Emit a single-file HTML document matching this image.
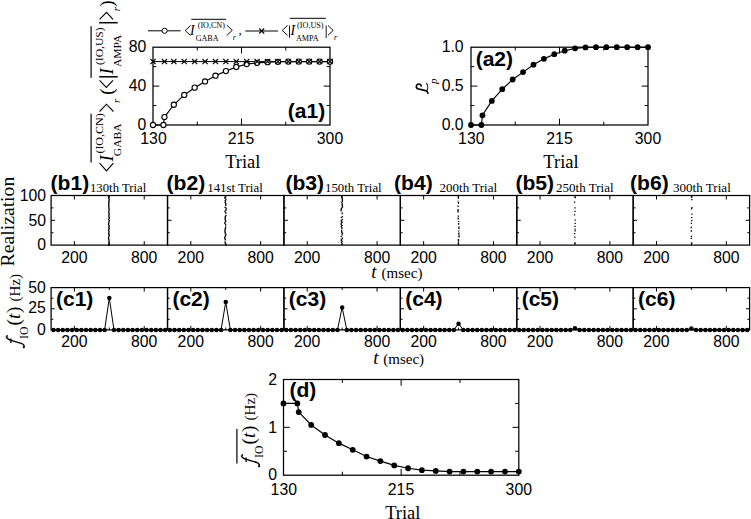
<!DOCTYPE html><html><head><meta charset="utf-8"><style>html,body{margin:0;padding:0;background:#fff;}svg{display:block;}</style></head><body>
<svg width="751" height="519" viewBox="0 0 751 519">
<rect width="751" height="519" fill="#fff"/>
<g stroke="#000" fill="#000">
<polyline points="153,125 163.41,125 164.45,117.03 173.82,104.77 184.24,94.95 194.65,87.66 205.06,81.43 215.47,75.69 225.88,71.12 236.29,66.94 246.71,64.12 257.12,62.86 267.53,62.18 277.94,61.79 288.35,61.59 298.76,61.59 309.18,61.59 319.59,61.59 330,61.59" fill="none" stroke-width="1.15"/>
<line x1="153" y1="61.59" x2="330" y2="61.59" stroke-width="1"/>
<rect x="153" y="47.2" width="177" height="77.8" fill="none" stroke-width="1.25"/>
<line x1="241.5" y1="125" x2="241.5" y2="118.7" stroke-width="1"/>
<line x1="241.5" y1="47.2" x2="241.5" y2="53.5" stroke-width="1"/>
<line x1="197.25" y1="125" x2="197.25" y2="121.7" stroke-width="1"/>
<line x1="197.25" y1="47.2" x2="197.25" y2="50.5" stroke-width="1"/>
<line x1="285.75" y1="125" x2="285.75" y2="121.7" stroke-width="1"/>
<line x1="285.75" y1="47.2" x2="285.75" y2="50.5" stroke-width="1"/>
<line x1="153" y1="86.1" x2="159.3" y2="86.1" stroke-width="1"/>
<line x1="330" y1="86.1" x2="323.7" y2="86.1" stroke-width="1"/>
<line x1="153" y1="105.55" x2="156.3" y2="105.55" stroke-width="1"/>
<line x1="330" y1="105.55" x2="326.7" y2="105.55" stroke-width="1"/>
<line x1="153" y1="66.65" x2="156.3" y2="66.65" stroke-width="1"/>
<line x1="330" y1="66.65" x2="326.7" y2="66.65" stroke-width="1"/>
<circle cx="153" cy="125" r="2.6" fill="#fff" stroke-width="1.1"/>
<circle cx="163.41" cy="125" r="2.6" fill="#fff" stroke-width="1.1"/>
<circle cx="164.45" cy="117.03" r="2.6" fill="#fff" stroke-width="1.1"/>
<circle cx="173.82" cy="104.77" r="2.6" fill="#fff" stroke-width="1.1"/>
<circle cx="184.24" cy="94.95" r="2.6" fill="#fff" stroke-width="1.1"/>
<circle cx="194.65" cy="87.66" r="2.6" fill="#fff" stroke-width="1.1"/>
<circle cx="205.06" cy="81.43" r="2.6" fill="#fff" stroke-width="1.1"/>
<circle cx="215.47" cy="75.69" r="2.6" fill="#fff" stroke-width="1.1"/>
<circle cx="225.88" cy="71.12" r="2.6" fill="#fff" stroke-width="1.1"/>
<circle cx="236.29" cy="66.94" r="2.6" fill="#fff" stroke-width="1.1"/>
<circle cx="246.71" cy="64.12" r="2.6" fill="#fff" stroke-width="1.1"/>
<circle cx="257.12" cy="62.86" r="2.6" fill="#fff" stroke-width="1.1"/>
<circle cx="267.53" cy="62.18" r="2.6" fill="#fff" stroke-width="1.1"/>
<circle cx="277.94" cy="61.79" r="2.6" fill="#fff" stroke-width="1.1"/>
<circle cx="288.35" cy="61.59" r="2.6" fill="#fff" stroke-width="1.1"/>
<circle cx="298.76" cy="61.59" r="2.6" fill="#fff" stroke-width="1.1"/>
<circle cx="309.18" cy="61.59" r="2.6" fill="#fff" stroke-width="1.1"/>
<circle cx="319.59" cy="61.59" r="2.6" fill="#fff" stroke-width="1.1"/>
<circle cx="330" cy="61.59" r="2.6" fill="#fff" stroke-width="1.1"/>
<path d="M150.4 58.99L155.6 64.19M150.4 64.19L155.6 58.99" stroke-width="1.1" fill="none"/>
<path d="M161.85 58.99L167.05 64.19M161.85 64.19L167.05 58.99" stroke-width="1.1" fill="none"/>
<path d="M171.22 58.99L176.42 64.19M171.22 64.19L176.42 58.99" stroke-width="1.1" fill="none"/>
<path d="M181.64 58.99L186.84 64.19M181.64 64.19L186.84 58.99" stroke-width="1.1" fill="none"/>
<path d="M192.05 58.99L197.25 64.19M192.05 64.19L197.25 58.99" stroke-width="1.1" fill="none"/>
<path d="M202.46 58.99L207.66 64.19M202.46 64.19L207.66 58.99" stroke-width="1.1" fill="none"/>
<path d="M212.87 58.99L218.07 64.19M212.87 64.19L218.07 58.99" stroke-width="1.1" fill="none"/>
<path d="M223.28 58.99L228.48 64.19M223.28 64.19L228.48 58.99" stroke-width="1.1" fill="none"/>
<path d="M233.69 58.99L238.89 64.19M233.69 64.19L238.89 58.99" stroke-width="1.1" fill="none"/>
<path d="M244.11 58.99L249.31 64.19M244.11 64.19L249.31 58.99" stroke-width="1.1" fill="none"/>
<path d="M254.52 58.99L259.72 64.19M254.52 64.19L259.72 58.99" stroke-width="1.1" fill="none"/>
<path d="M264.93 58.99L270.13 64.19M264.93 64.19L270.13 58.99" stroke-width="1.1" fill="none"/>
<path d="M275.34 58.99L280.54 64.19M275.34 64.19L280.54 58.99" stroke-width="1.1" fill="none"/>
<path d="M285.75 58.99L290.95 64.19M285.75 64.19L290.95 58.99" stroke-width="1.1" fill="none"/>
<path d="M296.16 58.99L301.36 64.19M296.16 64.19L301.36 58.99" stroke-width="1.1" fill="none"/>
<path d="M306.58 58.99L311.78 64.19M306.58 64.19L311.78 58.99" stroke-width="1.1" fill="none"/>
<path d="M316.99 58.99L322.19 64.19M316.99 64.19L322.19 58.99" stroke-width="1.1" fill="none"/>
<path d="M327.4 58.99L332.6 64.19M327.4 64.19L332.6 58.99" stroke-width="1.1" fill="none"/>
<polyline points="471,125 481.41,125 482.45,115.28 491.82,100.88 502.24,89.21 512.65,79.49 523.06,72.1 533.47,64.7 543.88,58.87 554.29,54.2 564.71,50.7 575.12,48.37 585.53,47.43 595.94,47.2 606.35,47.2 616.76,47.2 627.18,47.2 637.59,47.2 648,47.2" fill="none" stroke-width="1.15"/>
<rect x="471" y="47.2" width="177" height="77.8" fill="none" stroke-width="1.25"/>
<line x1="559.5" y1="125" x2="559.5" y2="118.7" stroke-width="1"/>
<line x1="559.5" y1="47.2" x2="559.5" y2="53.5" stroke-width="1"/>
<line x1="515.25" y1="125" x2="515.25" y2="121.7" stroke-width="1"/>
<line x1="515.25" y1="47.2" x2="515.25" y2="50.5" stroke-width="1"/>
<line x1="603.75" y1="125" x2="603.75" y2="121.7" stroke-width="1"/>
<line x1="603.75" y1="47.2" x2="603.75" y2="50.5" stroke-width="1"/>
<line x1="471" y1="86.1" x2="477.3" y2="86.1" stroke-width="1"/>
<line x1="648" y1="86.1" x2="641.7" y2="86.1" stroke-width="1"/>
<line x1="471" y1="105.55" x2="474.3" y2="105.55" stroke-width="1"/>
<line x1="648" y1="105.55" x2="644.7" y2="105.55" stroke-width="1"/>
<line x1="471" y1="66.65" x2="474.3" y2="66.65" stroke-width="1"/>
<line x1="648" y1="66.65" x2="644.7" y2="66.65" stroke-width="1"/>
<circle cx="471" cy="125" r="2.9" stroke="none"/>
<circle cx="481.41" cy="125" r="2.9" stroke="none"/>
<circle cx="482.45" cy="115.28" r="2.9" stroke="none"/>
<circle cx="491.82" cy="100.88" r="2.9" stroke="none"/>
<circle cx="502.24" cy="89.21" r="2.9" stroke="none"/>
<circle cx="512.65" cy="79.49" r="2.9" stroke="none"/>
<circle cx="523.06" cy="72.1" r="2.9" stroke="none"/>
<circle cx="533.47" cy="64.7" r="2.9" stroke="none"/>
<circle cx="543.88" cy="58.87" r="2.9" stroke="none"/>
<circle cx="554.29" cy="54.2" r="2.9" stroke="none"/>
<circle cx="564.71" cy="50.7" r="2.9" stroke="none"/>
<circle cx="575.12" cy="48.37" r="2.9" stroke="none"/>
<circle cx="585.53" cy="47.43" r="2.9" stroke="none"/>
<circle cx="595.94" cy="47.2" r="2.9" stroke="none"/>
<circle cx="606.35" cy="47.2" r="2.9" stroke="none"/>
<circle cx="616.76" cy="47.2" r="2.9" stroke="none"/>
<circle cx="627.18" cy="47.2" r="2.9" stroke="none"/>
<circle cx="637.59" cy="47.2" r="2.9" stroke="none"/>
<circle cx="648" cy="47.2" r="2.9" stroke="none"/>
<polyline points="283.5,403.43 297.34,403.43 298.73,412.04 311.18,424.96 325.02,435.01 338.86,443.14 352.71,449.84 366.55,456.54 380.39,461.08 394.23,465.39 408.07,468.26 421.91,470.18 435.75,470.89 449.59,471.61 463.44,471.61 477.28,471.61 491.12,471.61 504.96,471.61 518.8,471.61" fill="none" stroke-width="1.15"/>
<rect x="283.5" y="379.5" width="235.3" height="95.7" fill="none" stroke-width="1.25"/>
<line x1="401.15" y1="475.2" x2="401.15" y2="468.9" stroke-width="1"/>
<line x1="401.15" y1="379.5" x2="401.15" y2="385.8" stroke-width="1"/>
<line x1="342.32" y1="475.2" x2="342.32" y2="471.7" stroke-width="1"/>
<line x1="342.32" y1="379.5" x2="342.32" y2="383" stroke-width="1"/>
<line x1="459.97" y1="475.2" x2="459.97" y2="471.7" stroke-width="1"/>
<line x1="459.97" y1="379.5" x2="459.97" y2="383" stroke-width="1"/>
<line x1="283.5" y1="427.35" x2="289.8" y2="427.35" stroke-width="1"/>
<line x1="518.8" y1="427.35" x2="512.5" y2="427.35" stroke-width="1"/>
<line x1="283.5" y1="451.27" x2="287" y2="451.27" stroke-width="1"/>
<line x1="518.8" y1="451.27" x2="515.3" y2="451.27" stroke-width="1"/>
<line x1="283.5" y1="403.43" x2="287" y2="403.43" stroke-width="1"/>
<line x1="518.8" y1="403.43" x2="515.3" y2="403.43" stroke-width="1"/>
<circle cx="283.5" cy="403.43" r="2.9" stroke="none"/>
<circle cx="297.34" cy="403.43" r="2.9" stroke="none"/>
<circle cx="298.73" cy="412.04" r="2.9" stroke="none"/>
<circle cx="311.18" cy="424.96" r="2.9" stroke="none"/>
<circle cx="325.02" cy="435.01" r="2.9" stroke="none"/>
<circle cx="338.86" cy="443.14" r="2.9" stroke="none"/>
<circle cx="352.71" cy="449.84" r="2.9" stroke="none"/>
<circle cx="366.55" cy="456.54" r="2.9" stroke="none"/>
<circle cx="380.39" cy="461.08" r="2.9" stroke="none"/>
<circle cx="394.23" cy="465.39" r="2.9" stroke="none"/>
<circle cx="408.07" cy="468.26" r="2.9" stroke="none"/>
<circle cx="421.91" cy="470.18" r="2.9" stroke="none"/>
<circle cx="435.75" cy="470.89" r="2.9" stroke="none"/>
<circle cx="449.59" cy="471.61" r="2.9" stroke="none"/>
<circle cx="463.44" cy="471.61" r="2.9" stroke="none"/>
<circle cx="477.28" cy="471.61" r="2.9" stroke="none"/>
<circle cx="491.12" cy="471.61" r="2.9" stroke="none"/>
<circle cx="504.96" cy="471.61" r="2.9" stroke="none"/>
<circle cx="518.8" cy="471.61" r="2.9" stroke="none"/>
<rect x="51.1" y="195.5" width="116.42" height="49.6" fill="none" stroke-width="1.25"/>
<line x1="74.38" y1="245.1" x2="74.38" y2="241.1" stroke-width="1"/>
<line x1="74.38" y1="195.5" x2="74.38" y2="199.5" stroke-width="1"/>
<line x1="144.23" y1="245.1" x2="144.23" y2="241.1" stroke-width="1"/>
<line x1="144.23" y1="195.5" x2="144.23" y2="199.5" stroke-width="1"/>
<line x1="109.31" y1="245.1" x2="109.31" y2="242.8" stroke-width="1"/>
<line x1="109.31" y1="195.5" x2="109.31" y2="197.8" stroke-width="1"/>
<line x1="51.1" y1="220.3" x2="55.1" y2="220.3" stroke-width="1"/>
<line x1="51.1" y1="232.7" x2="53.4" y2="232.7" stroke-width="1"/>
<line x1="51.1" y1="207.9" x2="53.4" y2="207.9" stroke-width="1"/>
<path d="M108.68 195.8v1.16M108.99 196.66v0.88M108.97 197.24v0.86M108.61 197.8v1.28M109.22 198.78v1.27M109.06 199.74v1.05M108.88 200.49v1.43M109.25 201.62v0.85M108.65 202.18v0.96M108.7 202.83v1.7M108.86 204.23v1.5M108.61 205.43v0.87M108.9 206v1.55M108.92 207.25v1.44M109.12 208.4v1.67M108.98 209.77v1.43M108.79 210.9v1.6M108.89 212.2v0.93M108.95 212.83v0.97M109.17 213.5v1.54M108.81 214.74v1.76M109.02 216.2v1.45M109.31 217.35v1.72M108.61 218.78v1.53M109.35 220.01v1.51M108.87 221.22v1.11M108.93 222.03v0.82M108.61 222.56v0.93M108.76 223.19v0.94M108.62 223.83v1.76M109.27 225.29v1.4M108.78 226.39v1.75M109.27 227.84v1.19M108.7 228.74v0.97M108.95 229.4v1.06M108.56 230.16v1.09M109.01 230.95v1.21M108.97 231.85v1.56M108.6 233.11v1.54M109.26 234.36v1.66M108.88 235.72v1.23M108.61 236.65v1.5M108.69 237.84v1.03M108.56 238.57v0.86M108.85 239.13v0.91M109.05 239.74v1.76M108.84 241.21v1.08M109.24 241.98v0.94M108.95 242.62v1.31M108.83 243.63v0.91M108.69 244.24v1.71" stroke-width="1.3" fill="none"/>
<rect x="167.52" y="195.5" width="116.42" height="49.6" fill="none" stroke-width="1.25"/>
<line x1="190.8" y1="245.1" x2="190.8" y2="241.1" stroke-width="1"/>
<line x1="190.8" y1="195.5" x2="190.8" y2="199.5" stroke-width="1"/>
<line x1="260.65" y1="245.1" x2="260.65" y2="241.1" stroke-width="1"/>
<line x1="260.65" y1="195.5" x2="260.65" y2="199.5" stroke-width="1"/>
<line x1="225.73" y1="245.1" x2="225.73" y2="242.8" stroke-width="1"/>
<line x1="225.73" y1="195.5" x2="225.73" y2="197.8" stroke-width="1"/>
<line x1="167.52" y1="220.3" x2="171.52" y2="220.3" stroke-width="1"/>
<line x1="167.52" y1="232.7" x2="169.82" y2="232.7" stroke-width="1"/>
<line x1="167.52" y1="207.9" x2="169.82" y2="207.9" stroke-width="1"/>
<path d="M225.42 195.8v1.85M224.71 197.35v1.4M225.88 198.44v1.88M225.19 200.02v1.09M225.42 200.81v1.65M224.99 202.16v1.16M225.87 203.02v1.88M225.71 204.6v1.7M225.07 207.07v0.83M226.01 207.6v1.56M226.06 208.86v1.83M224.98 210.4v1.2M224.96 211.3v1.02M225.85 212.01v1.79M225.95 214.72v1.53M225.34 215.95v1.63M225.14 217.27v1.67M225.23 218.64v1.87M225.69 220.21v1.84M224.89 221.75v0.94M224.88 222.39v1.69M225.6 223.78v1.88M225.59 226.46v1.87M225.28 228.03v1.83M224.97 229.56v1.71M225.01 230.96v1.12M225.26 231.79v1.09M225.17 232.57v1.8M225.94 234.07v1.44M225.38 235.21v1.81M224.7 236.72v1.38M224.68 237.8v1M225.34 238.5v0.99M225.13 239.19v1.41M225.02 241.41v1.42M225.39 242.53v1.65M225.95 243.88v1.64" stroke-width="1.3" fill="none"/>
<rect x="283.93" y="195.5" width="116.42" height="49.6" fill="none" stroke-width="1.25"/>
<line x1="307.22" y1="245.1" x2="307.22" y2="241.1" stroke-width="1"/>
<line x1="307.22" y1="195.5" x2="307.22" y2="199.5" stroke-width="1"/>
<line x1="377.07" y1="245.1" x2="377.07" y2="241.1" stroke-width="1"/>
<line x1="377.07" y1="195.5" x2="377.07" y2="199.5" stroke-width="1"/>
<line x1="342.14" y1="245.1" x2="342.14" y2="242.8" stroke-width="1"/>
<line x1="342.14" y1="195.5" x2="342.14" y2="197.8" stroke-width="1"/>
<line x1="283.93" y1="220.3" x2="287.93" y2="220.3" stroke-width="1"/>
<line x1="283.93" y1="232.7" x2="286.23" y2="232.7" stroke-width="1"/>
<line x1="283.93" y1="207.9" x2="286.23" y2="207.9" stroke-width="1"/>
<path d="M341.8 195.8v1.47M341.73 196.97v1.56M342.41 198.24v1.33M342.41 199.26v1.76M342.41 200.73v1.42M341.26 201.84v0.95M342.19 203.07v1.54M342.09 204.31v0.97M342.33 204.98v0.96M342.43 205.64v1.04M342.48 206.38v1.34M341.7 207.41v0.98M341.37 208.09v1.17M341.12 208.96v1.59M341.12 210.26v1.28M342.2 212.43v1.88M342.37 215.98v1.26M341.3 216.95v1.08M342.06 218.86v0.86M342.41 219.42v0.88M341.21 220v1.68M342.3 221.39v0.87M341.87 221.96v1.17M341.27 222.83v1.09M341.25 223.63v1.06M341.37 224.39v0.86M342.16 224.94v1.14M341.34 225.78v1.35M341.86 227.35v1.61M341.7 229.68v1.7M341.64 231.08v1.72M342.47 232.5v1.56M342.08 233.75v1.72M341.19 236.11v0.94M342.31 237.54v1.73M341.43 238.96v1.11M341.31 239.77v1.31M342.44 240.78v1.09M341.43 241.57v1.4M341.76 243.51v1.22" stroke-width="1.3" fill="none"/>
<rect x="400.35" y="195.5" width="116.42" height="49.6" fill="none" stroke-width="1.25"/>
<line x1="423.63" y1="245.1" x2="423.63" y2="241.1" stroke-width="1"/>
<line x1="423.63" y1="195.5" x2="423.63" y2="199.5" stroke-width="1"/>
<line x1="493.48" y1="245.1" x2="493.48" y2="241.1" stroke-width="1"/>
<line x1="493.48" y1="195.5" x2="493.48" y2="199.5" stroke-width="1"/>
<line x1="458.56" y1="245.1" x2="458.56" y2="242.8" stroke-width="1"/>
<line x1="458.56" y1="195.5" x2="458.56" y2="197.8" stroke-width="1"/>
<line x1="400.35" y1="220.3" x2="404.35" y2="220.3" stroke-width="1"/>
<line x1="400.35" y1="232.7" x2="402.65" y2="232.7" stroke-width="1"/>
<line x1="400.35" y1="207.9" x2="402.65" y2="207.9" stroke-width="1"/>
<path d="M458.32 196.2v2.6M458.11 200.8v0.8M458.48 202v1.8M458.05 205.5v1.6M458.03 209v3.4M458.37 215.4v1.3M458.28 217.6v2M458.7 221v0.9M458.64 223.1v1.7M458.9 226.6v2.3M458.79 230.4v1.2M458.86 232.5v2.3M459.05 235.2v2.3M458.47 239v2.8M458.39 242.2v2.3" stroke-width="1.3" fill="none"/>
<rect x="516.77" y="195.5" width="116.42" height="49.6" fill="none" stroke-width="1.25"/>
<line x1="540.05" y1="245.1" x2="540.05" y2="241.1" stroke-width="1"/>
<line x1="540.05" y1="195.5" x2="540.05" y2="199.5" stroke-width="1"/>
<line x1="609.9" y1="245.1" x2="609.9" y2="241.1" stroke-width="1"/>
<line x1="609.9" y1="195.5" x2="609.9" y2="199.5" stroke-width="1"/>
<line x1="574.98" y1="245.1" x2="574.98" y2="242.8" stroke-width="1"/>
<line x1="574.98" y1="195.5" x2="574.98" y2="197.8" stroke-width="1"/>
<line x1="516.77" y1="220.3" x2="520.77" y2="220.3" stroke-width="1"/>
<line x1="516.77" y1="232.7" x2="519.07" y2="232.7" stroke-width="1"/>
<line x1="516.77" y1="207.9" x2="519.07" y2="207.9" stroke-width="1"/>
<path d="M575.29 196.85v1.3M574.62 201.45v1.3M575.08 207.25v1.3M575.01 210.65v1.3M574.54 214.15v1.3M575.17 219.55v1.3M575.21 222.75v1.3M575 225.65v1.3M575.09 228.55v1.3M575.15 230.25v1.3M574.61 232.95v1.3M574.92 236.45v1.3M574.9 242.35v1.3" stroke-width="1.3" fill="none"/>
<rect x="633.18" y="195.5" width="116.42" height="49.6" fill="none" stroke-width="1.25"/>
<line x1="656.47" y1="245.1" x2="656.47" y2="241.1" stroke-width="1"/>
<line x1="656.47" y1="195.5" x2="656.47" y2="199.5" stroke-width="1"/>
<line x1="726.32" y1="245.1" x2="726.32" y2="241.1" stroke-width="1"/>
<line x1="726.32" y1="195.5" x2="726.32" y2="199.5" stroke-width="1"/>
<line x1="691.39" y1="245.1" x2="691.39" y2="242.8" stroke-width="1"/>
<line x1="691.39" y1="195.5" x2="691.39" y2="197.8" stroke-width="1"/>
<line x1="633.18" y1="220.3" x2="637.18" y2="220.3" stroke-width="1"/>
<line x1="749.6" y1="220.3" x2="745.6" y2="220.3" stroke-width="1"/>
<line x1="633.18" y1="232.7" x2="635.48" y2="232.7" stroke-width="1"/>
<line x1="749.6" y1="232.7" x2="747.3" y2="232.7" stroke-width="1"/>
<line x1="633.18" y1="207.9" x2="635.48" y2="207.9" stroke-width="1"/>
<line x1="749.6" y1="207.9" x2="747.3" y2="207.9" stroke-width="1"/>
<path d="M691.87 196.55v1.3M691.84 198.95v1.3M691.86 206.95v1.3M691.67 208.15v1.3M691.91 213.55v1.3M691.75 217.05v1.3M691.75 219.95v1.3M691.38 222.75v1.3M691.22 226.85v1.3M691.31 230.35v1.3M691.49 235.75v1.3M691.28 237.75v1.3M691.87 242.35v1.3" stroke-width="1.3" fill="none"/>
<rect x="51.1" y="287.6" width="116.42" height="42.3" fill="none" stroke-width="1.25"/>
<line x1="74.38" y1="329.9" x2="74.38" y2="325.9" stroke-width="1"/>
<line x1="74.38" y1="287.6" x2="74.38" y2="291.6" stroke-width="1"/>
<line x1="144.23" y1="329.9" x2="144.23" y2="325.9" stroke-width="1"/>
<line x1="144.23" y1="287.6" x2="144.23" y2="291.6" stroke-width="1"/>
<line x1="109.31" y1="329.9" x2="109.31" y2="327.6" stroke-width="1"/>
<line x1="109.31" y1="287.6" x2="109.31" y2="289.9" stroke-width="1"/>
<line x1="51.1" y1="308.75" x2="54.7" y2="308.75" stroke-width="1"/>
<line x1="51.1" y1="319.32" x2="53.3" y2="319.32" stroke-width="1"/>
<line x1="51.1" y1="298.18" x2="53.3" y2="298.18" stroke-width="1"/>
<polyline points="53.43,329.9 58.09,329.9 62.74,329.9 67.4,329.9 72.06,329.9 76.71,329.9 81.37,329.9 86.03,329.9 90.68,329.9 95.34,329.9 100,329.9 104.65,329.9 109.31,297.92 113.97,329.9 118.62,329.9 123.28,329.9 127.94,329.9 132.59,329.9 137.25,329.9 141.91,329.9 146.56,329.9 151.22,329.9 155.88,329.9 160.53,329.9 165.19,329.9" fill="none" stroke-width="1"/>
<circle cx="53.43" cy="329.9" r="2.25" stroke="none"/>
<circle cx="58.09" cy="329.9" r="2.25" stroke="none"/>
<circle cx="62.74" cy="329.9" r="2.25" stroke="none"/>
<circle cx="67.4" cy="329.9" r="2.25" stroke="none"/>
<circle cx="72.06" cy="329.9" r="2.25" stroke="none"/>
<circle cx="76.71" cy="329.9" r="2.25" stroke="none"/>
<circle cx="81.37" cy="329.9" r="2.25" stroke="none"/>
<circle cx="86.03" cy="329.9" r="2.25" stroke="none"/>
<circle cx="90.68" cy="329.9" r="2.25" stroke="none"/>
<circle cx="95.34" cy="329.9" r="2.25" stroke="none"/>
<circle cx="100" cy="329.9" r="2.25" stroke="none"/>
<circle cx="104.65" cy="329.9" r="2.25" stroke="none"/>
<circle cx="109.31" cy="297.92" r="2.25" stroke="none"/>
<circle cx="113.97" cy="329.9" r="2.25" stroke="none"/>
<circle cx="118.62" cy="329.9" r="2.25" stroke="none"/>
<circle cx="123.28" cy="329.9" r="2.25" stroke="none"/>
<circle cx="127.94" cy="329.9" r="2.25" stroke="none"/>
<circle cx="132.59" cy="329.9" r="2.25" stroke="none"/>
<circle cx="137.25" cy="329.9" r="2.25" stroke="none"/>
<circle cx="141.91" cy="329.9" r="2.25" stroke="none"/>
<circle cx="146.56" cy="329.9" r="2.25" stroke="none"/>
<circle cx="151.22" cy="329.9" r="2.25" stroke="none"/>
<circle cx="155.88" cy="329.9" r="2.25" stroke="none"/>
<circle cx="160.53" cy="329.9" r="2.25" stroke="none"/>
<circle cx="165.19" cy="329.9" r="2.25" stroke="none"/>
<rect x="167.52" y="287.6" width="116.42" height="42.3" fill="none" stroke-width="1.25"/>
<line x1="190.8" y1="329.9" x2="190.8" y2="325.9" stroke-width="1"/>
<line x1="190.8" y1="287.6" x2="190.8" y2="291.6" stroke-width="1"/>
<line x1="260.65" y1="329.9" x2="260.65" y2="325.9" stroke-width="1"/>
<line x1="260.65" y1="287.6" x2="260.65" y2="291.6" stroke-width="1"/>
<line x1="225.73" y1="329.9" x2="225.73" y2="327.6" stroke-width="1"/>
<line x1="225.73" y1="287.6" x2="225.73" y2="289.9" stroke-width="1"/>
<line x1="167.52" y1="308.75" x2="171.12" y2="308.75" stroke-width="1"/>
<line x1="167.52" y1="319.32" x2="169.72" y2="319.32" stroke-width="1"/>
<line x1="167.52" y1="298.18" x2="169.72" y2="298.18" stroke-width="1"/>
<polyline points="169.85,329.9 174.5,329.9 179.16,329.9 183.82,329.9 188.47,329.9 193.13,329.9 197.79,329.9 202.44,329.9 207.1,329.9 211.76,329.9 216.41,329.9 221.07,329.9 225.73,302.07 230.38,329.9 235.04,329.9 239.7,329.9 244.35,329.9 249.01,329.9 253.67,329.9 258.32,329.9 262.98,329.9 267.63,329.9 272.29,329.9 276.95,329.9 281.61,329.9" fill="none" stroke-width="1"/>
<circle cx="169.85" cy="329.9" r="2.25" stroke="none"/>
<circle cx="174.5" cy="329.9" r="2.25" stroke="none"/>
<circle cx="179.16" cy="329.9" r="2.25" stroke="none"/>
<circle cx="183.82" cy="329.9" r="2.25" stroke="none"/>
<circle cx="188.47" cy="329.9" r="2.25" stroke="none"/>
<circle cx="193.13" cy="329.9" r="2.25" stroke="none"/>
<circle cx="197.79" cy="329.9" r="2.25" stroke="none"/>
<circle cx="202.44" cy="329.9" r="2.25" stroke="none"/>
<circle cx="207.1" cy="329.9" r="2.25" stroke="none"/>
<circle cx="211.76" cy="329.9" r="2.25" stroke="none"/>
<circle cx="216.41" cy="329.9" r="2.25" stroke="none"/>
<circle cx="221.07" cy="329.9" r="2.25" stroke="none"/>
<circle cx="225.73" cy="302.07" r="2.25" stroke="none"/>
<circle cx="230.38" cy="329.9" r="2.25" stroke="none"/>
<circle cx="235.04" cy="329.9" r="2.25" stroke="none"/>
<circle cx="239.7" cy="329.9" r="2.25" stroke="none"/>
<circle cx="244.35" cy="329.9" r="2.25" stroke="none"/>
<circle cx="249.01" cy="329.9" r="2.25" stroke="none"/>
<circle cx="253.67" cy="329.9" r="2.25" stroke="none"/>
<circle cx="258.32" cy="329.9" r="2.25" stroke="none"/>
<circle cx="262.98" cy="329.9" r="2.25" stroke="none"/>
<circle cx="267.63" cy="329.9" r="2.25" stroke="none"/>
<circle cx="272.29" cy="329.9" r="2.25" stroke="none"/>
<circle cx="276.95" cy="329.9" r="2.25" stroke="none"/>
<circle cx="281.61" cy="329.9" r="2.25" stroke="none"/>
<rect x="283.93" y="287.6" width="116.42" height="42.3" fill="none" stroke-width="1.25"/>
<line x1="307.22" y1="329.9" x2="307.22" y2="325.9" stroke-width="1"/>
<line x1="307.22" y1="287.6" x2="307.22" y2="291.6" stroke-width="1"/>
<line x1="377.07" y1="329.9" x2="377.07" y2="325.9" stroke-width="1"/>
<line x1="377.07" y1="287.6" x2="377.07" y2="291.6" stroke-width="1"/>
<line x1="342.14" y1="329.9" x2="342.14" y2="327.6" stroke-width="1"/>
<line x1="342.14" y1="287.6" x2="342.14" y2="289.9" stroke-width="1"/>
<line x1="283.93" y1="308.75" x2="287.53" y2="308.75" stroke-width="1"/>
<line x1="283.93" y1="319.32" x2="286.13" y2="319.32" stroke-width="1"/>
<line x1="283.93" y1="298.18" x2="286.13" y2="298.18" stroke-width="1"/>
<polyline points="286.26,329.9 290.92,329.9 295.57,329.9 300.23,329.9 304.89,329.9 309.55,329.9 314.2,329.9 318.86,329.9 323.51,329.9 328.17,329.9 332.83,329.9 337.49,329.9 342.14,307.4 346.8,329.9 351.45,329.9 356.11,329.9 360.77,329.9 365.43,329.9 370.08,329.9 374.74,329.9 379.39,329.9 384.05,329.9 388.71,329.9 393.37,329.9 398.02,329.9" fill="none" stroke-width="1"/>
<circle cx="286.26" cy="329.9" r="2.25" stroke="none"/>
<circle cx="290.92" cy="329.9" r="2.25" stroke="none"/>
<circle cx="295.57" cy="329.9" r="2.25" stroke="none"/>
<circle cx="300.23" cy="329.9" r="2.25" stroke="none"/>
<circle cx="304.89" cy="329.9" r="2.25" stroke="none"/>
<circle cx="309.55" cy="329.9" r="2.25" stroke="none"/>
<circle cx="314.2" cy="329.9" r="2.25" stroke="none"/>
<circle cx="318.86" cy="329.9" r="2.25" stroke="none"/>
<circle cx="323.51" cy="329.9" r="2.25" stroke="none"/>
<circle cx="328.17" cy="329.9" r="2.25" stroke="none"/>
<circle cx="332.83" cy="329.9" r="2.25" stroke="none"/>
<circle cx="337.49" cy="329.9" r="2.25" stroke="none"/>
<circle cx="342.14" cy="307.4" r="2.25" stroke="none"/>
<circle cx="346.8" cy="329.9" r="2.25" stroke="none"/>
<circle cx="351.45" cy="329.9" r="2.25" stroke="none"/>
<circle cx="356.11" cy="329.9" r="2.25" stroke="none"/>
<circle cx="360.77" cy="329.9" r="2.25" stroke="none"/>
<circle cx="365.43" cy="329.9" r="2.25" stroke="none"/>
<circle cx="370.08" cy="329.9" r="2.25" stroke="none"/>
<circle cx="374.74" cy="329.9" r="2.25" stroke="none"/>
<circle cx="379.39" cy="329.9" r="2.25" stroke="none"/>
<circle cx="384.05" cy="329.9" r="2.25" stroke="none"/>
<circle cx="388.71" cy="329.9" r="2.25" stroke="none"/>
<circle cx="393.37" cy="329.9" r="2.25" stroke="none"/>
<circle cx="398.02" cy="329.9" r="2.25" stroke="none"/>
<rect x="400.35" y="287.6" width="116.42" height="42.3" fill="none" stroke-width="1.25"/>
<line x1="423.63" y1="329.9" x2="423.63" y2="325.9" stroke-width="1"/>
<line x1="423.63" y1="287.6" x2="423.63" y2="291.6" stroke-width="1"/>
<line x1="493.48" y1="329.9" x2="493.48" y2="325.9" stroke-width="1"/>
<line x1="493.48" y1="287.6" x2="493.48" y2="291.6" stroke-width="1"/>
<line x1="458.56" y1="329.9" x2="458.56" y2="327.6" stroke-width="1"/>
<line x1="458.56" y1="287.6" x2="458.56" y2="289.9" stroke-width="1"/>
<line x1="400.35" y1="308.75" x2="403.95" y2="308.75" stroke-width="1"/>
<line x1="400.35" y1="319.32" x2="402.55" y2="319.32" stroke-width="1"/>
<line x1="400.35" y1="298.18" x2="402.55" y2="298.18" stroke-width="1"/>
<polyline points="402.68,329.9 407.34,329.9 411.99,329.9 416.65,329.9 421.31,329.9 425.96,329.9 430.62,329.9 435.28,329.9 439.93,329.9 444.59,329.9 449.25,329.9 453.9,329.9 458.56,323.64 463.22,329.9 467.87,329.9 472.53,329.9 477.19,329.9 481.84,329.9 486.5,329.9 491.16,329.9 495.81,329.9 500.47,329.9 505.12,329.9 509.78,329.9 514.44,329.9" fill="none" stroke-width="1"/>
<circle cx="402.68" cy="329.9" r="2.25" stroke="none"/>
<circle cx="407.34" cy="329.9" r="2.25" stroke="none"/>
<circle cx="411.99" cy="329.9" r="2.25" stroke="none"/>
<circle cx="416.65" cy="329.9" r="2.25" stroke="none"/>
<circle cx="421.31" cy="329.9" r="2.25" stroke="none"/>
<circle cx="425.96" cy="329.9" r="2.25" stroke="none"/>
<circle cx="430.62" cy="329.9" r="2.25" stroke="none"/>
<circle cx="435.28" cy="329.9" r="2.25" stroke="none"/>
<circle cx="439.93" cy="329.9" r="2.25" stroke="none"/>
<circle cx="444.59" cy="329.9" r="2.25" stroke="none"/>
<circle cx="449.25" cy="329.9" r="2.25" stroke="none"/>
<circle cx="453.9" cy="329.9" r="2.25" stroke="none"/>
<circle cx="458.56" cy="323.64" r="2.25" stroke="none"/>
<circle cx="463.22" cy="329.9" r="2.25" stroke="none"/>
<circle cx="467.87" cy="329.9" r="2.25" stroke="none"/>
<circle cx="472.53" cy="329.9" r="2.25" stroke="none"/>
<circle cx="477.19" cy="329.9" r="2.25" stroke="none"/>
<circle cx="481.84" cy="329.9" r="2.25" stroke="none"/>
<circle cx="486.5" cy="329.9" r="2.25" stroke="none"/>
<circle cx="491.16" cy="329.9" r="2.25" stroke="none"/>
<circle cx="495.81" cy="329.9" r="2.25" stroke="none"/>
<circle cx="500.47" cy="329.9" r="2.25" stroke="none"/>
<circle cx="505.12" cy="329.9" r="2.25" stroke="none"/>
<circle cx="509.78" cy="329.9" r="2.25" stroke="none"/>
<circle cx="514.44" cy="329.9" r="2.25" stroke="none"/>
<rect x="516.77" y="287.6" width="116.42" height="42.3" fill="none" stroke-width="1.25"/>
<line x1="540.05" y1="329.9" x2="540.05" y2="325.9" stroke-width="1"/>
<line x1="540.05" y1="287.6" x2="540.05" y2="291.6" stroke-width="1"/>
<line x1="609.9" y1="329.9" x2="609.9" y2="325.9" stroke-width="1"/>
<line x1="609.9" y1="287.6" x2="609.9" y2="291.6" stroke-width="1"/>
<line x1="574.98" y1="329.9" x2="574.98" y2="327.6" stroke-width="1"/>
<line x1="574.98" y1="287.6" x2="574.98" y2="289.9" stroke-width="1"/>
<line x1="516.77" y1="308.75" x2="520.37" y2="308.75" stroke-width="1"/>
<line x1="516.77" y1="319.32" x2="518.97" y2="319.32" stroke-width="1"/>
<line x1="516.77" y1="298.18" x2="518.97" y2="298.18" stroke-width="1"/>
<polyline points="519.1,329.9 523.75,329.9 528.41,329.9 533.06,329.9 537.72,329.9 542.38,329.9 547.03,329.9 551.69,329.9 556.35,329.9 561,329.9 565.66,329.9 570.32,329.9 574.98,328.21 579.63,329.9 584.29,329.9 588.94,329.9 593.6,329.9 598.26,329.9 602.91,329.9 607.57,329.9 612.23,329.9 616.88,329.9 621.54,329.9 626.2,329.9 630.86,329.9" fill="none" stroke-width="1"/>
<circle cx="519.1" cy="329.9" r="2.25" stroke="none"/>
<circle cx="523.75" cy="329.9" r="2.25" stroke="none"/>
<circle cx="528.41" cy="329.9" r="2.25" stroke="none"/>
<circle cx="533.06" cy="329.9" r="2.25" stroke="none"/>
<circle cx="537.72" cy="329.9" r="2.25" stroke="none"/>
<circle cx="542.38" cy="329.9" r="2.25" stroke="none"/>
<circle cx="547.03" cy="329.9" r="2.25" stroke="none"/>
<circle cx="551.69" cy="329.9" r="2.25" stroke="none"/>
<circle cx="556.35" cy="329.9" r="2.25" stroke="none"/>
<circle cx="561" cy="329.9" r="2.25" stroke="none"/>
<circle cx="565.66" cy="329.9" r="2.25" stroke="none"/>
<circle cx="570.32" cy="329.9" r="2.25" stroke="none"/>
<circle cx="574.98" cy="328.21" r="2.25" stroke="none"/>
<circle cx="579.63" cy="329.9" r="2.25" stroke="none"/>
<circle cx="584.29" cy="329.9" r="2.25" stroke="none"/>
<circle cx="588.94" cy="329.9" r="2.25" stroke="none"/>
<circle cx="593.6" cy="329.9" r="2.25" stroke="none"/>
<circle cx="598.26" cy="329.9" r="2.25" stroke="none"/>
<circle cx="602.91" cy="329.9" r="2.25" stroke="none"/>
<circle cx="607.57" cy="329.9" r="2.25" stroke="none"/>
<circle cx="612.23" cy="329.9" r="2.25" stroke="none"/>
<circle cx="616.88" cy="329.9" r="2.25" stroke="none"/>
<circle cx="621.54" cy="329.9" r="2.25" stroke="none"/>
<circle cx="626.2" cy="329.9" r="2.25" stroke="none"/>
<circle cx="630.86" cy="329.9" r="2.25" stroke="none"/>
<rect x="633.18" y="287.6" width="116.42" height="42.3" fill="none" stroke-width="1.25"/>
<line x1="656.47" y1="329.9" x2="656.47" y2="325.9" stroke-width="1"/>
<line x1="656.47" y1="287.6" x2="656.47" y2="291.6" stroke-width="1"/>
<line x1="726.32" y1="329.9" x2="726.32" y2="325.9" stroke-width="1"/>
<line x1="726.32" y1="287.6" x2="726.32" y2="291.6" stroke-width="1"/>
<line x1="691.39" y1="329.9" x2="691.39" y2="327.6" stroke-width="1"/>
<line x1="691.39" y1="287.6" x2="691.39" y2="289.9" stroke-width="1"/>
<line x1="633.18" y1="308.75" x2="636.78" y2="308.75" stroke-width="1"/>
<line x1="749.6" y1="308.75" x2="746" y2="308.75" stroke-width="1"/>
<line x1="633.18" y1="319.32" x2="635.38" y2="319.32" stroke-width="1"/>
<line x1="749.6" y1="319.32" x2="747.4" y2="319.32" stroke-width="1"/>
<line x1="633.18" y1="298.18" x2="635.38" y2="298.18" stroke-width="1"/>
<line x1="749.6" y1="298.18" x2="747.4" y2="298.18" stroke-width="1"/>
<polyline points="635.51,329.9 640.17,329.9 644.83,329.9 649.48,329.9 654.14,329.9 658.8,329.9 663.45,329.9 668.11,329.9 672.77,329.9 677.42,329.9 682.08,329.9 686.74,329.9 691.39,328.55 696.05,329.9 700.71,329.9 705.36,329.9 710.02,329.9 714.68,329.9 719.33,329.9 723.99,329.9 728.65,329.9 733.3,329.9 737.96,329.9 742.62,329.9 747.27,329.9" fill="none" stroke-width="1"/>
<circle cx="635.51" cy="329.9" r="2.25" stroke="none"/>
<circle cx="640.17" cy="329.9" r="2.25" stroke="none"/>
<circle cx="644.83" cy="329.9" r="2.25" stroke="none"/>
<circle cx="649.48" cy="329.9" r="2.25" stroke="none"/>
<circle cx="654.14" cy="329.9" r="2.25" stroke="none"/>
<circle cx="658.8" cy="329.9" r="2.25" stroke="none"/>
<circle cx="663.45" cy="329.9" r="2.25" stroke="none"/>
<circle cx="668.11" cy="329.9" r="2.25" stroke="none"/>
<circle cx="672.77" cy="329.9" r="2.25" stroke="none"/>
<circle cx="677.42" cy="329.9" r="2.25" stroke="none"/>
<circle cx="682.08" cy="329.9" r="2.25" stroke="none"/>
<circle cx="686.74" cy="329.9" r="2.25" stroke="none"/>
<circle cx="691.39" cy="328.55" r="2.25" stroke="none"/>
<circle cx="696.05" cy="329.9" r="2.25" stroke="none"/>
<circle cx="700.71" cy="329.9" r="2.25" stroke="none"/>
<circle cx="705.36" cy="329.9" r="2.25" stroke="none"/>
<circle cx="710.02" cy="329.9" r="2.25" stroke="none"/>
<circle cx="714.68" cy="329.9" r="2.25" stroke="none"/>
<circle cx="719.33" cy="329.9" r="2.25" stroke="none"/>
<circle cx="723.99" cy="329.9" r="2.25" stroke="none"/>
<circle cx="728.65" cy="329.9" r="2.25" stroke="none"/>
<circle cx="733.3" cy="329.9" r="2.25" stroke="none"/>
<circle cx="737.96" cy="329.9" r="2.25" stroke="none"/>
<circle cx="742.62" cy="329.9" r="2.25" stroke="none"/>
<circle cx="747.27" cy="329.9" r="2.25" stroke="none"/>
</g>
<g fill="#000" stroke="none">
<text x="153.5" y="144.2" font-size="15.8" font-family='"Liberation Sans", sans-serif' text-anchor="middle">130</text>
<text x="241" y="144.2" font-size="15.8" font-family='"Liberation Sans", sans-serif' text-anchor="middle">215</text>
<text x="330" y="144.2" font-size="15.8" font-family='"Liberation Sans", sans-serif' text-anchor="middle">300</text>
<text x="146.4" y="52.1" font-size="15.8" font-family='"Liberation Sans", sans-serif' text-anchor="end">80</text>
<text x="146.4" y="91" font-size="15.8" font-family='"Liberation Sans", sans-serif' text-anchor="end">40</text>
<text x="146.4" y="129.8" font-size="15.8" font-family='"Liberation Sans", sans-serif' text-anchor="end">0</text>
<text x="242.8" y="167.5" font-size="18.5" font-family='"Liberation Serif", serif' text-anchor="middle">Trial</text>
<text x="287.8" y="117.8" font-size="21" font-family='"Liberation Sans", sans-serif' font-weight="bold">(a1)</text>
<text x="471.3" y="144.2" font-size="15.8" font-family='"Liberation Sans", sans-serif' text-anchor="middle">130</text>
<text x="559.5" y="144.2" font-size="15.8" font-family='"Liberation Sans", sans-serif' text-anchor="middle">215</text>
<text x="648" y="144.2" font-size="15.8" font-family='"Liberation Sans", sans-serif' text-anchor="middle">300</text>
<text x="463.6" y="52.1" font-size="15.8" font-family='"Liberation Sans", sans-serif' text-anchor="end">1.0</text>
<text x="463.6" y="91" font-size="15.8" font-family='"Liberation Sans", sans-serif' text-anchor="end">0.5</text>
<text x="463.6" y="129.8" font-size="15.8" font-family='"Liberation Sans", sans-serif' text-anchor="end">0.0</text>
<text x="561" y="167.5" font-size="18.5" font-family='"Liberation Serif", serif' text-anchor="middle">Trial</text>
<text x="475.7" y="65.8" font-size="21" font-family='"Liberation Sans", sans-serif' font-weight="bold">(a2)</text>
<text x="283.8" y="495.4" font-size="15.8" font-family='"Liberation Sans", sans-serif' text-anchor="middle">130</text>
<text x="401" y="495.4" font-size="15.8" font-family='"Liberation Sans", sans-serif' text-anchor="middle">215</text>
<text x="518.8" y="495.4" font-size="15.8" font-family='"Liberation Sans", sans-serif' text-anchor="middle">300</text>
<text x="277" y="384.7" font-size="15.8" font-family='"Liberation Sans", sans-serif' text-anchor="end">2</text>
<text x="277" y="432.6" font-size="15.8" font-family='"Liberation Sans", sans-serif' text-anchor="end">1</text>
<text x="277" y="480.4" font-size="15.8" font-family='"Liberation Sans", sans-serif' text-anchor="end">0</text>
<text x="402.8" y="518.6" font-size="18.5" font-family='"Liberation Serif", serif' text-anchor="middle">Trial</text>
<text x="289.4" y="396.8" font-size="21" font-family='"Liberation Sans", sans-serif' font-weight="bold">(d)</text>
<text x="46" y="201.2" font-size="15.8" font-family='"Liberation Sans", sans-serif' text-anchor="end">100</text>
<text x="46" y="225.9" font-size="15.8" font-family='"Liberation Sans", sans-serif' text-anchor="end">50</text>
<text x="46" y="250.3" font-size="15.8" font-family='"Liberation Sans", sans-serif' text-anchor="end">0</text>
<text x="74.38" y="262.6" font-size="15.8" font-family='"Liberation Sans", sans-serif' text-anchor="middle">200</text>
<text x="144.23" y="262.6" font-size="15.8" font-family='"Liberation Sans", sans-serif' text-anchor="middle">800</text>
<text x="50.5" y="189.9" font-size="21.1" font-family='"Liberation Sans", sans-serif' font-weight="bold">(b1)</text>
<text x="90" y="191.8" font-size="12.8" font-family='"Liberation Serif", serif' textLength="56.25" lengthAdjust="spacingAndGlyphs">130th Trial</text>
<text x="190.8" y="262.6" font-size="15.8" font-family='"Liberation Sans", sans-serif' text-anchor="middle">200</text>
<text x="260.65" y="262.6" font-size="15.8" font-family='"Liberation Sans", sans-serif' text-anchor="middle">800</text>
<text x="166.5" y="189.9" font-size="21.1" font-family='"Liberation Sans", sans-serif' font-weight="bold">(b2)</text>
<text x="207.2" y="191.8" font-size="12.8" font-family='"Liberation Serif", serif' textLength="55.53" lengthAdjust="spacingAndGlyphs">141st Trial</text>
<text x="307.22" y="262.6" font-size="15.8" font-family='"Liberation Sans", sans-serif' text-anchor="middle">200</text>
<text x="377.07" y="262.6" font-size="15.8" font-family='"Liberation Sans", sans-serif' text-anchor="middle">800</text>
<text x="285.4" y="189.9" font-size="21.1" font-family='"Liberation Sans", sans-serif' font-weight="bold">(b3)</text>
<text x="325" y="191.8" font-size="12.8" font-family='"Liberation Serif", serif' textLength="56.66" lengthAdjust="spacingAndGlyphs">150th Trial</text>
<text x="423.63" y="262.6" font-size="15.8" font-family='"Liberation Sans", sans-serif' text-anchor="middle">200</text>
<text x="493.48" y="262.6" font-size="15.8" font-family='"Liberation Sans", sans-serif' text-anchor="middle">800</text>
<text x="394.1" y="189.9" font-size="21.1" font-family='"Liberation Sans", sans-serif' font-weight="bold">(b4)</text>
<text x="439.6" y="191.8" font-size="12.8" font-family='"Liberation Serif", serif' textLength="57.48" lengthAdjust="spacingAndGlyphs">200th Trial</text>
<text x="540.05" y="262.6" font-size="15.8" font-family='"Liberation Sans", sans-serif' text-anchor="middle">200</text>
<text x="609.9" y="262.6" font-size="15.8" font-family='"Liberation Sans", sans-serif' text-anchor="middle">800</text>
<text x="515.4" y="189.9" font-size="21.1" font-family='"Liberation Sans", sans-serif' font-weight="bold">(b5)</text>
<text x="556.1" y="191.8" font-size="12.8" font-family='"Liberation Serif", serif' textLength="57.48" lengthAdjust="spacingAndGlyphs">250th Trial</text>
<text x="656.47" y="262.6" font-size="15.8" font-family='"Liberation Sans", sans-serif' text-anchor="middle">200</text>
<text x="726.32" y="262.6" font-size="15.8" font-family='"Liberation Sans", sans-serif' text-anchor="middle">800</text>
<text x="630.1" y="189.9" font-size="21.1" font-family='"Liberation Sans", sans-serif' font-weight="bold">(b6)</text>
<text x="672.9" y="191.8" font-size="12.8" font-family='"Liberation Serif", serif' textLength="57.89" lengthAdjust="spacingAndGlyphs">300th Trial</text>
<text x="45.9" y="292.5" font-size="15.8" font-family='"Liberation Sans", sans-serif' text-anchor="end">50</text>
<text x="45.9" y="313.3" font-size="15.8" font-family='"Liberation Sans", sans-serif' text-anchor="end">25</text>
<text x="45.9" y="335" font-size="15.8" font-family='"Liberation Sans", sans-serif' text-anchor="end">0</text>
<text x="74.38" y="347.2" font-size="15.8" font-family='"Liberation Sans", sans-serif' text-anchor="middle">200</text>
<text x="144.23" y="347.2" font-size="15.8" font-family='"Liberation Sans", sans-serif' text-anchor="middle">800</text>
<text x="56" y="306.3" font-size="21" font-family='"Liberation Sans", sans-serif' font-weight="bold">(c1)</text>
<text x="190.8" y="347.2" font-size="15.8" font-family='"Liberation Sans", sans-serif' text-anchor="middle">200</text>
<text x="260.65" y="347.2" font-size="15.8" font-family='"Liberation Sans", sans-serif' text-anchor="middle">800</text>
<text x="172.42" y="306.3" font-size="21" font-family='"Liberation Sans", sans-serif' font-weight="bold">(c2)</text>
<text x="307.22" y="347.2" font-size="15.8" font-family='"Liberation Sans", sans-serif' text-anchor="middle">200</text>
<text x="377.07" y="347.2" font-size="15.8" font-family='"Liberation Sans", sans-serif' text-anchor="middle">800</text>
<text x="288.83" y="306.3" font-size="21" font-family='"Liberation Sans", sans-serif' font-weight="bold">(c3)</text>
<text x="423.63" y="347.2" font-size="15.8" font-family='"Liberation Sans", sans-serif' text-anchor="middle">200</text>
<text x="493.48" y="347.2" font-size="15.8" font-family='"Liberation Sans", sans-serif' text-anchor="middle">800</text>
<text x="405.25" y="306.3" font-size="21" font-family='"Liberation Sans", sans-serif' font-weight="bold">(c4)</text>
<text x="540.05" y="347.2" font-size="15.8" font-family='"Liberation Sans", sans-serif' text-anchor="middle">200</text>
<text x="609.9" y="347.2" font-size="15.8" font-family='"Liberation Sans", sans-serif' text-anchor="middle">800</text>
<text x="521.67" y="306.3" font-size="21" font-family='"Liberation Sans", sans-serif' font-weight="bold">(c5)</text>
<text x="656.47" y="347.2" font-size="15.8" font-family='"Liberation Sans", sans-serif' text-anchor="middle">200</text>
<text x="726.32" y="347.2" font-size="15.8" font-family='"Liberation Sans", sans-serif' text-anchor="middle">800</text>
<text x="638.08" y="306.3" font-size="21" font-family='"Liberation Sans", sans-serif' font-weight="bold">(c6)</text>
<text x="371.2" y="277.8" font-size="18.7" font-family='"Liberation Serif", serif' font-style="italic">t</text>
<text x="381.6" y="277.8" font-size="15" font-family='"Liberation Serif", serif'>(msec)</text>
<text x="373.2" y="364.2" font-size="18.7" font-family='"Liberation Serif", serif' font-style="italic">t</text>
<text x="383.3" y="364.2" font-size="15" font-family='"Liberation Serif", serif'>(msec)</text>
</g>
<g fill="#000" stroke="#000">
<text transform="translate(13.9,266.4) rotate(-90)" font-size="19" font-family='"Liberation Serif", serif' stroke="none" textLength="89.7" lengthAdjust="spacingAndGlyphs">Realization</text>
<g transform="translate(19.3,350) rotate(-90)">
<path d="M2.4,4.3 C3.8,5.6 5.6,4.5 6.4,2.6 C7.6,-0.8 8.6,-5.5 9.6,-8.3 C10.6,-11.0 12.0,-13.2 13.6,-12.9" fill="none" stroke-width="1.5"/>
<path d="M6.9,-8.4 L11.6,-8.4" fill="none" stroke-width="1.3"/>
<circle cx="2.6" cy="4.4" r="0.95" stroke="none"/><circle cx="14.1" cy="-12.1" r="0.85" stroke="none"/>
<text x="11.0" y="8.4" font-size="11.8" font-family='"Liberation Serif", serif' stroke="none">IO</text>
<text x="24.4" y="0.7" font-size="19.2" font-family='"Liberation Serif", serif' stroke="none">(<tspan font-style="italic" dx="0.2">t</tspan><tspan dx="0.7">)</tspan></text>
<text x="48.6" y="0.3" font-size="15" font-family='"Liberation Serif", serif' stroke="none">(Hz)</text>
</g>
<g transform="translate(254.5,469) rotate(-90)">
<path d="M2.4,4.3 C3.8,5.6 5.6,4.5 6.4,2.6 C7.6,-0.8 8.6,-5.5 9.6,-8.3 C10.6,-11.0 12.0,-13.2 13.6,-12.9" fill="none" stroke-width="1.5"/>
<path d="M6.9,-8.4 L11.6,-8.4" fill="none" stroke-width="1.3"/>
<circle cx="2.6" cy="4.4" r="0.95" stroke="none"/><circle cx="14.1" cy="-12.1" r="0.85" stroke="none"/>
<text x="11.0" y="8.4" font-size="11.8" font-family='"Liberation Serif", serif' stroke="none">IO</text>
<text x="24.4" y="0.7" font-size="19.2" font-family='"Liberation Serif", serif' stroke="none">(<tspan font-style="italic" dx="0.2">t</tspan><tspan dx="0.7">)</tspan></text>
<text x="48.6" y="0.3" font-size="15" font-family='"Liberation Serif", serif' stroke="none">(Hz)</text>
<line x1="5.4" y1="-17.6" x2="40" y2="-17.6" stroke-width="1.2"/>
</g>
<g transform="translate(113.4,175) rotate(-90)">
<polyline points="11.9,-13.8 4.1,-6.9 11.9,0" fill="none" stroke-width="1.1"/>
<text x="13.5" y="0" font-size="19" font-family='"Liberation Serif", serif' font-style="italic" stroke="none">I</text>
<text x="21.4" y="-10.8" font-size="11.2" font-family='"Liberation Serif", serif' stroke="none" textLength="40.3" lengthAdjust="spacingAndGlyphs">(IO,CN)</text>
<text x="18.75" y="7.8" font-size="11" font-family='"Liberation Serif", serif' stroke="none" textLength="33" lengthAdjust="spacingAndGlyphs">GABA</text>
<line x1="12.6" y1="-22.3" x2="61.2" y2="-22.3" stroke-width="1.2"/>
<polyline points="63.5,-13.8 70.8,-6.9 63.5,0" fill="none" stroke-width="1.1"/>
<text x="72.0" y="6.2" font-size="10.6" font-family='"Liberation Serif", serif' font-style="italic" stroke="none">r</text>
<text x="80.2" y="0" font-size="19" font-family='"Liberation Serif", serif' stroke="none">(</text>
<polyline points="94.6,-13.8 87.6,-7.1 94.6,-0.4" fill="none" stroke-width="1.1"/>
<line x1="98.2" y1="-14.2" x2="98.2" y2="4.3" stroke-width="1.5"/>
<text x="100.5" y="0" font-size="19" font-family='"Liberation Serif", serif' font-style="italic" stroke="none">I</text>
<text x="109.9" y="-10.8" font-size="11.2" font-family='"Liberation Serif", serif' stroke="none" textLength="37.8" lengthAdjust="spacingAndGlyphs">(IO,US)</text>
<text x="107.9" y="7.8" font-size="11" font-family='"Liberation Serif", serif' stroke="none" textLength="32.5" lengthAdjust="spacingAndGlyphs">AMPA</text>
<line x1="97.3" y1="-22.3" x2="148.8" y2="-22.3" stroke-width="1.2"/>
<line x1="152.3" y1="-14.2" x2="152.3" y2="4.3" stroke-width="1.5"/>
<polyline points="155.7,-13.8 162.7,-6.9 155.7,-0.4" fill="none" stroke-width="1.1"/>
<text x="163.8" y="6.2" font-size="10.6" font-family='"Liberation Serif", serif' font-style="italic" stroke="none">r</text>
<text x="168.2" y="0" font-size="19" font-family='"Liberation Serif", serif' stroke="none">)</text>
</g>
<line x1="148" y1="30.8" x2="180.7" y2="30.8" stroke-width="1"/>
<circle cx="164.6" cy="30.8" r="2.6" fill="#fff" stroke-width="1"/>
<polyline points="190.5,25.5 185.2,30.5 190.5,35.5" fill="none" stroke-width="0.95"/>
<text x="190.0" y="35.2" font-size="13.8" font-family='"Liberation Serif", serif' font-style="italic" stroke="none">I</text>
<text x="197.7" y="27.5" font-size="8.2" font-family='"Liberation Serif", serif' stroke="none" textLength="27.2" lengthAdjust="spacingAndGlyphs">(IO,CN)</text>
<text x="195.7" y="41.4" font-size="8.2" font-family='"Liberation Serif", serif' stroke="none" textLength="22.9" lengthAdjust="spacingAndGlyphs">GABA</text>
<line x1="191.3" y1="19.3" x2="226" y2="19.3" stroke-width="1"/>
<polyline points="226.8,25.2 232.3,30.3 226.8,35.4" fill="none" stroke-width="0.95"/>
<text x="232.8" y="39.9" font-size="8.2" font-family='"Liberation Serif", serif' font-style="italic" stroke="none">r</text>
<text x="238.4" y="34.2" font-size="13" font-family='"Liberation Serif", serif' stroke="none">,</text>
<line x1="245.3" y1="31" x2="278" y2="31" stroke-width="1"/>
<path d="M259.2 28.5L264.2 33.5M259.2 33.5L264.2 28.5" stroke-width="1.1" fill="none"/>
<polyline points="287.6,25.5 282.2,30.4 287.6,35.3" fill="none" stroke-width="0.95"/>
<line x1="289.5" y1="25.5" x2="289.5" y2="37.8" stroke-width="0.9"/>
<text x="290.4" y="35.3" font-size="13.8" font-family='"Liberation Serif", serif' font-style="italic" stroke="none">I</text>
<text x="297.1" y="27.6" font-size="8.2" font-family='"Liberation Serif", serif' stroke="none" textLength="26.5" lengthAdjust="spacingAndGlyphs">(IO,US)</text>
<text x="295.9" y="41.4" font-size="8.2" font-family='"Liberation Serif", serif' stroke="none" textLength="22.9" lengthAdjust="spacingAndGlyphs">AMPA</text>
<line x1="290" y1="18.3" x2="325.8" y2="18.3" stroke-width="1"/>
<line x1="326.2" y1="25.5" x2="326.2" y2="38" stroke-width="0.9"/>
<polyline points="328,25.5 333.2,30.4 328,35.3" fill="none" stroke-width="0.95"/>
<text x="333.9" y="39.5" font-size="8.2" font-family='"Liberation Serif", serif' font-style="italic" stroke="none">r</text>
<path d="M421.2,86.6 C421.5,84.2 418.5,83.2 417.0,84.8 C415.6,86.4 416.4,88.6 418.5,89.0 C421.0,89.6 424.5,90.2 426.2,90.8 C427.3,91.3 427.8,92.6 428.2,93.8" fill="none" stroke-width="1.7"/>
<path d="M426.3,83.2 C428.0,85.0 428.3,88.5 426.6,91.2" fill="none" stroke-width="1.1"/>
<text transform="translate(437.0,84.0) rotate(-90)" font-size="11" font-family='"Liberation Serif", serif' font-style="italic" stroke="none">p</text>
</g>
</svg></body></html>
